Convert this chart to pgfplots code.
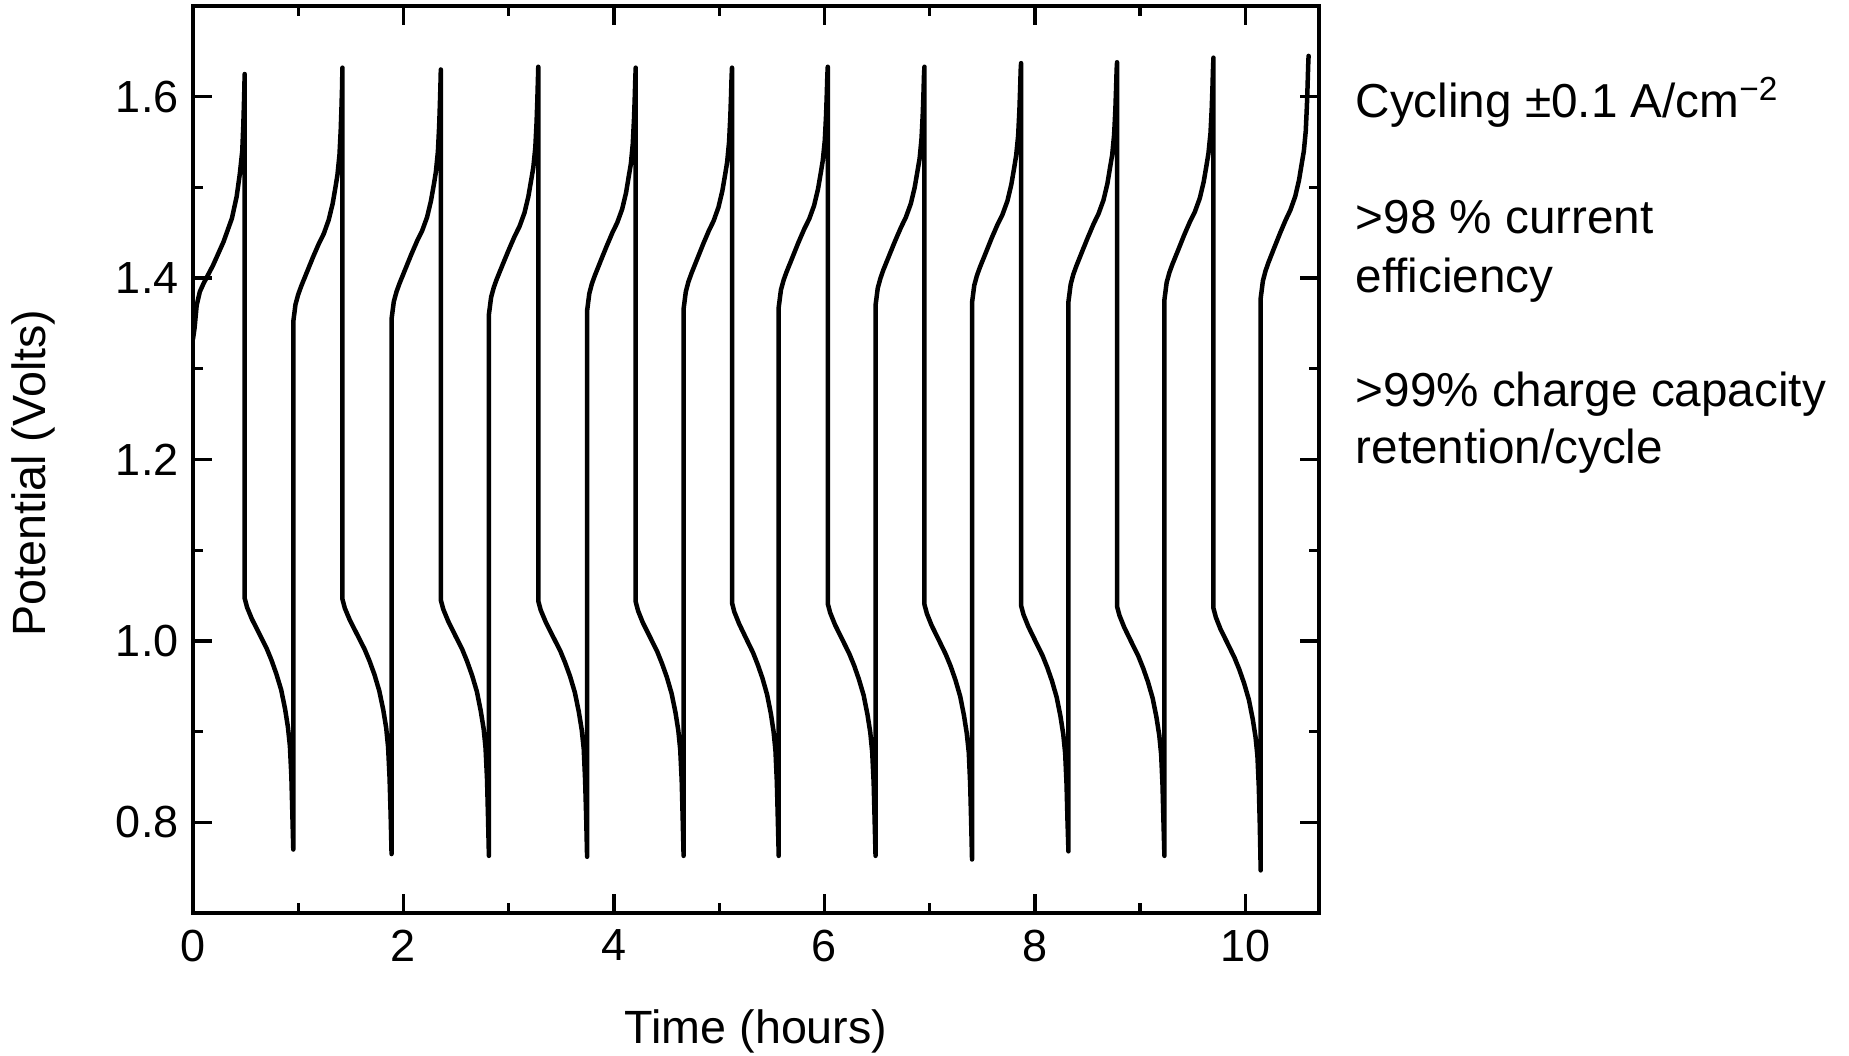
\documentclass[border=0pt]{standalone}
\usepackage{fontspec}
\setmainfont{Liberation Sans}
\usepackage{pgfplots}
\pgfplotsset{compat=1.18}
\begin{document}
\begin{tikzpicture}
\path[use as bounding box] (0,0) rectangle (554.7pt,316.5pt);
\begin{axis}[
  at={(57.9pt,42.6pt)}, anchor=south west,
  width=337.8pt, height=272.1pt, scale only axis,
  xmin=0, xmax=10.7, ymin=0.7, ymax=1.7,
  xtick={0,2,4,6,8,10}, minor xtick={1,3,5,7,9},
  ytick={0.8,1.0,1.2,1.4,1.6}, minor ytick={0.9,1.1,1.3,1.5},
  yticklabel style={xshift=-0.8pt, /pgf/number format/.cd, fixed, fixed zerofill, precision=1},
  /pgf/number format/assume math mode=true,
  tick label style={font=\fontsize{13.5}{16}\selectfont},
  xticklabel style={yshift=-1.5pt},
  label style={font=\fontsize{14}{17}\selectfont},
  tick align=inside,
  major tick length=5.7pt, minor tick length=3pt,
  every tick/.style={black, line width=1pt},
  axis line style={line width=1pt},
  xlabel={Time (hours)}, ylabel={Potential (Volts)},
  xlabel style={at={(axis description cs:0.5,-0.131)}, anchor=center},
  ylabel style={at={(axis description cs:-0.1416,0.485)}, anchor=center},
]
\addplot[black, line width=1.35pt, line join=round, line cap=round] coordinates {
(0,1.333) (0.015,1.345) (0.035,1.370) (0.065,1.385) (0.10,1.394) (0.19,1.414) (0.29,1.440) (0.37,1.466) (0.415,1.490) (0.445,1.515) (0.468,1.540) (0.478,1.568) (0.486,1.600) (0.491,1.625)
(0.491,1.047) (0.514,1.037) (0.560,1.024) (0.630,1.008) (0.699,0.992) (0.745,0.979) (0.791,0.964) (0.838,0.946) (0.875,0.925) (0.902,0.905) (0.921,0.884) (0.935,0.850) (0.944,0.810) (0.953,0.770)
(0.953,1.352) (0.974,1.371) (1.000,1.382) (1.028,1.391) (1.084,1.407) (1.140,1.423) (1.196,1.438) (1.243,1.449) (1.289,1.464) (1.327,1.482) (1.355,1.501) (1.373,1.514) (1.392,1.536) (1.404,1.564) (1.411,1.588) (1.416,1.608) (1.420,1.632)
(1.420,1.046) (1.443,1.036) (1.490,1.023) (1.560,1.007) (1.630,0.991) (1.677,0.978) (1.724,0.963) (1.770,0.945) (1.808,0.924) (1.836,0.904) (1.854,0.883) (1.868,0.849) (1.878,0.809) (1.887,0.765)
(1.887,1.355) (1.908,1.374) (1.934,1.385) (1.962,1.394) (2.018,1.410) (2.074,1.426) (2.130,1.441) (2.177,1.452) (2.224,1.467) (2.261,1.485) (2.290,1.504) (2.308,1.517) (2.327,1.539) (2.339,1.567) (2.346,1.591) (2.351,1.611) (2.355,1.630)
(2.355,1.045) (2.378,1.035) (2.424,1.022) (2.492,1.006) (2.561,0.990) (2.606,0.977) (2.652,0.962) (2.698,0.944) (2.734,0.923) (2.762,0.903) (2.780,0.882) (2.794,0.848) (2.803,0.808) (2.812,0.763)
(2.812,1.360) (2.833,1.379) (2.859,1.390) (2.887,1.399) (2.943,1.415) (3.000,1.431) (3.056,1.446) (3.103,1.457) (3.150,1.472) (3.187,1.490) (3.215,1.509) (3.234,1.522) (3.253,1.544) (3.265,1.572) (3.272,1.596) (3.277,1.616) (3.281,1.633)
(3.281,1.044) (3.304,1.034) (3.351,1.021) (3.420,1.005) (3.490,0.989) (3.536,0.976) (3.583,0.961) (3.629,0.943) (3.666,0.922) (3.694,0.902) (3.713,0.881) (3.726,0.847) (3.736,0.807) (3.745,0.762)
(3.745,1.364) (3.766,1.383) (3.791,1.394) (3.819,1.403) (3.874,1.419) (3.930,1.435) (3.985,1.450) (4.031,1.461) (4.078,1.476) (4.115,1.494) (4.142,1.513) (4.161,1.526) (4.179,1.548) (4.191,1.576) (4.198,1.600) (4.203,1.620) (4.207,1.632)
(4.207,1.043) (4.230,1.033) (4.275,1.020) (4.344,1.004) (4.412,0.988) (4.457,0.975) (4.503,0.960) (4.548,0.942) (4.585,0.921) (4.612,0.901) (4.630,0.880) (4.644,0.846) (4.653,0.806) (4.662,0.763)
(4.662,1.366) (4.683,1.385) (4.708,1.396) (4.736,1.405) (4.791,1.421) (4.846,1.437) (4.901,1.452) (4.947,1.463) (4.993,1.478) (5.030,1.496) (5.058,1.515) (5.076,1.528) (5.094,1.550) (5.106,1.578) (5.113,1.602) (5.118,1.622) (5.122,1.632)
(5.122,1.042) (5.144,1.032) (5.189,1.019) (5.255,1.003) (5.322,0.987) (5.366,0.974) (5.411,0.959) (5.455,0.941) (5.491,0.920) (5.517,0.900) (5.535,0.879) (5.548,0.845) (5.557,0.805) (5.566,0.763)
(5.566,1.368) (5.587,1.387) (5.613,1.398) (5.641,1.407) (5.697,1.423) (5.752,1.439) (5.808,1.454) (5.855,1.465) (5.902,1.480) (5.939,1.498) (5.967,1.517) (5.985,1.530) (6.004,1.552) (6.016,1.580) (6.023,1.604) (6.028,1.624) (6.032,1.633)
(6.032,1.041) (6.055,1.031) (6.100,1.018) (6.168,1.002) (6.236,0.986) (6.282,0.973) (6.327,0.958) (6.373,0.940) (6.409,0.919) (6.436,0.899) (6.454,0.878) (6.468,0.844) (6.477,0.804) (6.486,0.763)
(6.486,1.370) (6.507,1.389) (6.533,1.400) (6.560,1.409) (6.616,1.425) (6.672,1.441) (6.728,1.456) (6.774,1.467) (6.821,1.482) (6.858,1.500) (6.886,1.519) (6.905,1.532) (6.923,1.554) (6.935,1.582) (6.942,1.606) (6.947,1.626) (6.951,1.633)
(6.951,1.040) (6.974,1.030) (7.019,1.017) (7.087,1.001) (7.154,0.985) (7.200,0.972) (7.245,0.957) (7.290,0.939) (7.326,0.918) (7.353,0.898) (7.372,0.877) (7.385,0.843) (7.394,0.803) (7.403,0.759)
(7.403,1.373) (7.424,1.392) (7.450,1.403) (7.478,1.412) (7.534,1.428) (7.589,1.444) (7.645,1.459) (7.692,1.470) (7.739,1.485) (7.776,1.503) (7.804,1.522) (7.822,1.535) (7.841,1.557) (7.853,1.585) (7.860,1.609) (7.865,1.629) (7.869,1.637)
(7.869,1.039) (7.892,1.029) (7.937,1.016) (8.004,1.000) (8.072,0.984) (8.117,0.971) (8.162,0.956) (8.207,0.938) (8.243,0.917) (8.270,0.897) (8.288,0.876) (8.301,0.842) (8.310,0.802) (8.319,0.768)
(8.319,1.374) (8.340,1.393) (8.365,1.404) (8.393,1.413) (8.448,1.429) (8.504,1.445) (8.559,1.460) (8.605,1.471) (8.652,1.486) (8.689,1.504) (8.716,1.523) (8.735,1.536) (8.753,1.558) (8.765,1.586) (8.772,1.610) (8.777,1.630) (8.781,1.638)
(8.781,1.038) (8.804,1.028) (8.849,1.015) (8.916,0.999) (8.984,0.983) (9.029,0.970) (9.074,0.955) (9.119,0.937) (9.155,0.916) (9.182,0.896) (9.200,0.875) (9.213,0.841) (9.222,0.801) (9.231,0.763)
(9.231,1.376) (9.252,1.395) (9.278,1.406) (9.306,1.415) (9.362,1.431) (9.417,1.447) (9.473,1.462) (9.520,1.473) (9.567,1.488) (9.604,1.506) (9.632,1.525) (9.650,1.538) (9.669,1.560) (9.681,1.588) (9.688,1.612) (9.693,1.632) (9.697,1.643)
(9.697,1.036) (9.720,1.026) (9.764,1.013) (9.832,0.997) (9.899,0.981) (9.944,0.968) (9.989,0.953) (10.034,0.935) (10.070,0.914) (10.097,0.894) (10.115,0.873) (10.128,0.839) (10.137,0.799) (10.146,0.747)
(10.146,1.378) (10.167,1.397) (10.192,1.408) (10.219,1.417) (10.273,1.433) (10.328,1.449) (10.383,1.464) (10.428,1.475) (10.474,1.490) (10.510,1.508) (10.537,1.527) (10.556,1.540) (10.574,1.562) (10.585,1.590) (10.592,1.614) (10.597,1.634) (10.601,1.645)
};
\end{axis}
\begin{scope}[every node/.style={anchor=base west, inner sep=0pt, font=\fontsize{14.3}{17}\selectfont}]
\node at (406.5pt,281.1pt) {Cycling ±0.1 A/cm\textsuperscript{−2}};
\node at (406.5pt,246.5pt) {>98 \% current};
\node at (406.5pt,228.8pt) {efficiency};
\node at (406.5pt,194.5pt) {>99\% charge capacity};
\node at (406.5pt,177.5pt) {retention/cycle};
\end{scope}
\end{tikzpicture}
\end{document}
